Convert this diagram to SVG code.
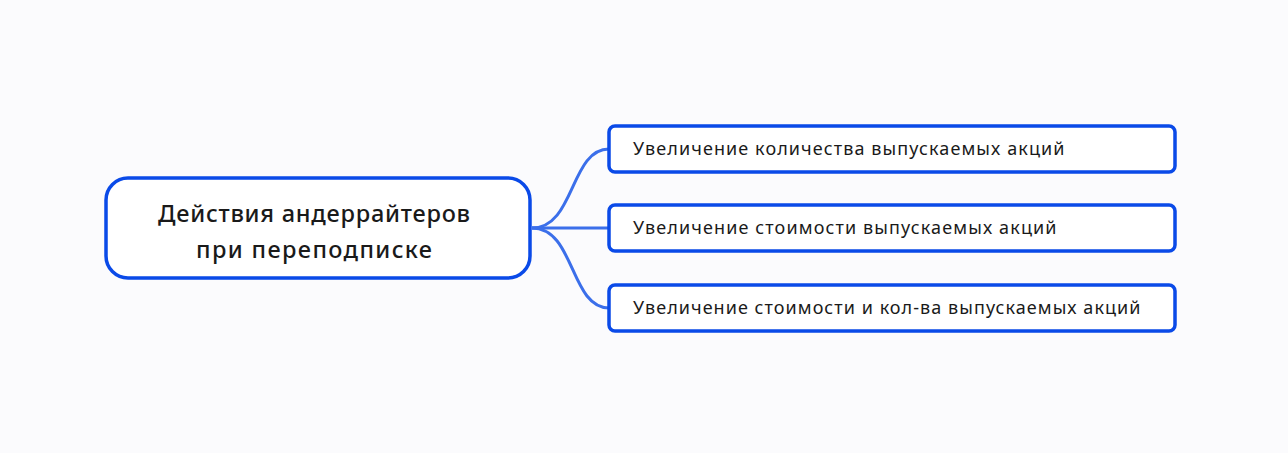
<svg xmlns="http://www.w3.org/2000/svg" width="1288" height="453" viewBox="0 0 1288 453">
<style>
.box{fill:#fff;stroke:#0a4ae8;stroke-width:3.5}
.c{fill:none;stroke:#3b6fea;stroke-width:3}
.t{font-family:"Noto Sans","Open Sans",sans-serif;fill:#1a1a1a}
.m{font-size:23.5px;font-weight:500;text-anchor:middle}
.s{font-size:18px;letter-spacing:0.5px}
</style>
<rect width="1288" height="453" fill="#fbfbfd"/>
<g id="connectors">
<path class="c" d="M532,228 C575,228 570,149 609,149"/>
<path class="c" d="M532,228 L609,228"/>
<path class="c" d="M532,228 C575,228 570,308 609,308"/>
</g>
<g id="root">
<rect class="box" x="106" y="178" width="424" height="100" rx="22"/>
<text class="t m" x="314" y="222" textLength="312" lengthAdjust="spacing">Действия андеррайтеров</text>
<text class="t m" x="314" y="258" textLength="236" lengthAdjust="spacing">при переподписке</text>
</g>
<g id="n1">
<rect class="box" x="609" y="126" width="566" height="46" rx="6"/>
<text class="t s" x="633" y="155" textLength="432" lengthAdjust="spacing">Увеличение количества выпускаемых акций</text>
</g>
<g id="n2">
<rect class="box" x="609" y="205" width="566" height="46" rx="6"/>
<text class="t s" x="633" y="234" textLength="424" lengthAdjust="spacing">Увеличение стоимости выпускаемых акций</text>
</g>
<g id="n3">
<rect class="box" x="609" y="285" width="566" height="46" rx="6"/>
<text class="t s" x="633" y="314" textLength="508" lengthAdjust="spacing">Увеличение стоимости и кол-ва выпускаемых акций</text>
</g>
</svg>
